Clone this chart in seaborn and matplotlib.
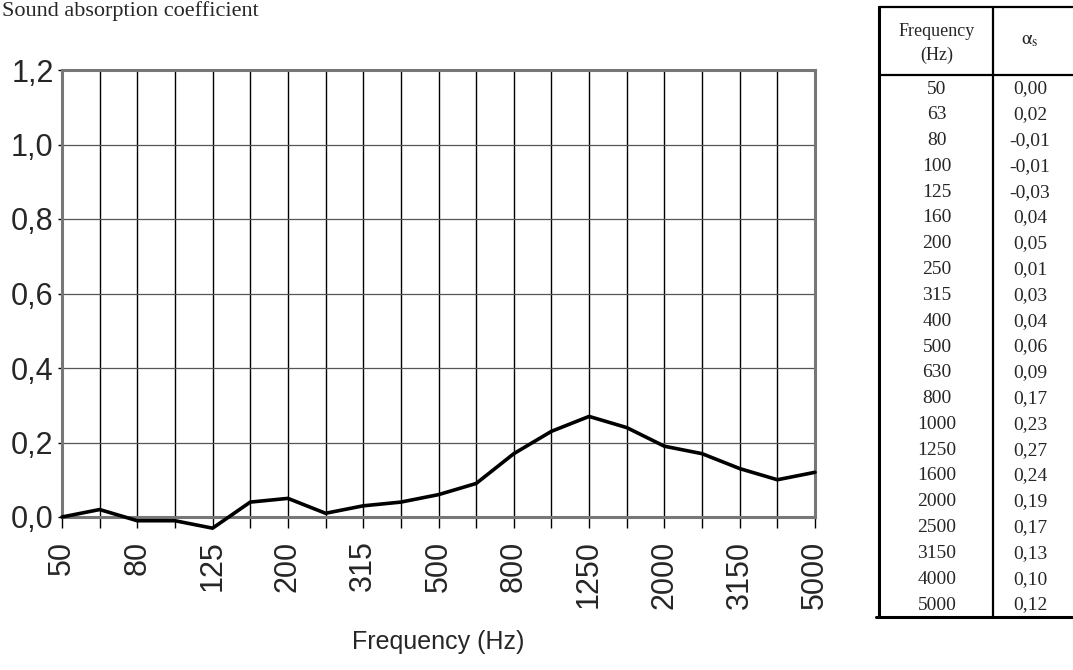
import matplotlib
matplotlib.use("Agg")
import matplotlib.pyplot as plt
import seaborn as sns
import pandas as pd

# data (1/3 octave bands and measured absorption coefficient)
freqs = ["50", "63", "80", "100", "125", "160", "200", "250", "315", "400",
         "500", "630", "800", "1000", "1250", "1600", "2000", "2500", "3150",
         "4000", "5000"]
alpha_s = [0.00, 0.02, -0.01, -0.01, -0.03, 0.04, 0.05, 0.01, 0.03, 0.04,
           0.06, 0.09, 0.17, 0.23, 0.27, 0.24, 0.19, 0.17, 0.13, 0.10, 0.12]
y_ticks = [0.0, 0.2, 0.4, 0.6, 0.8, 1.0, 1.2]

W, H = 1073, 670

sns.set_theme(style="white")
plt.rcParams['font.family'] = ['Liberation Sans Narrow', 'Liberation Sans', 'DejaVu Sans']
plt.rcParams['mathtext.fontset'] = 'stix'

df = pd.DataFrame({'freq': freqs, 'alpha': alpha_s})

fig = plt.figure(figsize=(W / 100, H / 100), dpi=100, facecolor='white')

# main chart
ax = fig.add_axes([62 / W, 1 - 517 / H, (815 - 62) / W, (517 - 70) / H])
ax.set_facecolor('white')
ax.set_xlim(0, len(freqs) - 1)
ax.set_ylim(0, 1.2)

# grid
ax.set_xticks(range(len(freqs)))
ax.set_xticklabels([f if i % 2 == 0 else '' for i, f in enumerate(freqs)],
                   rotation=90, fontsize=22)
ax.set_yticks(y_ticks)
ax.set_yticklabels([f"{v:.1f}".replace('.', ',') for v in y_ticks], fontsize=22)
ax.xaxis.grid(True, color='black', linewidth=1.0)
ax.yaxis.grid(True, color='#555555', linewidth=0.9)
ax.set_axisbelow(True)
ax.tick_params(axis='x', direction='out', length=8, width=1, color='black',
               pad=9, bottom=True)
ax.tick_params(axis='y', direction='out', length=3, width=1, color='black',
               pad=3, left=True)
for s in ax.spines.values():
    s.set_color('#777777')
    s.set_linewidth(2.2)

sns.lineplot(data=df, x='freq', y='alpha', ax=ax, color='black',
             linewidth=2.6, sort=False, clip_on=False, zorder=5)
ax.set_ylabel('')
ax.set_xlabel('Frequency (Hz)', fontsize=18, labelpad=15)

# overlay for caption + table (pixel coordinates)
ov = fig.add_axes([0, 0, 1, 1], facecolor='none')
ov.set_xlim(0, W)
ov.set_ylim(H, 0)
ov.axis('off')

ov.text(2, 1, 'Sound absorption coefficient', ha='left', va='top',
        fontsize=16, family=['Liberation Serif', 'DejaVu Serif'])

# table
tx0, tx1, tdiv = 879, 1080, 993
ty0, thead, ty1 = 7, 75, 617
serif = ['Liberation Serif', 'DejaVu Serif']
ov.plot([tx0, tx1], [ty0, ty0], color='black', lw=1.6)
ov.plot([tx0, tx1], [thead, thead], color='black', lw=1.6)
ov.plot([tx0 - 3, tx1], [ty1, ty1], color='black', lw=2.2)
ov.plot([tx0, tx0], [ty0, ty1], color='black', lw=2.2)
ov.plot([tdiv, tdiv], [ty0, ty1], color='black', lw=1.6)

ov.text(937, 31, 'Frequency', ha='center', va='center', fontsize=13, family=serif)
ov.text(937, 55, '(Hz)', ha='center', va='center', fontsize=13, family=serif)
ov.text(1030, 41, r'$\mathrm{\alpha}_\mathrm{s}$', ha='center', va='center', fontsize=14)

row0, step = 89, (605 - 89) / (len(freqs) - 1)
for i, (f, a) in enumerate(zip(freqs, alpha_s)):
    yy = row0 + i * step
    ov.text(937, yy, f, ha='center', va='center', fontsize=14, family=serif)
    ov.text(1030, yy, f"{a:.2f}".replace('.', ','), ha='center', va='center',
            fontsize=14, family=serif)

fig.savefig('out.png', dpi=100, facecolor='white')
